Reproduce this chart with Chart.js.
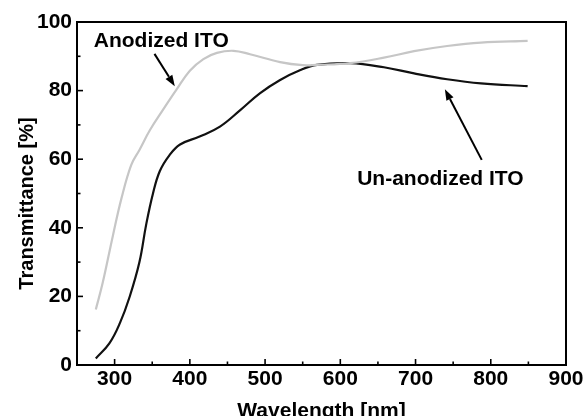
<!DOCTYPE html>
<html><head><meta charset="utf-8">
<script src="https://cdn.jsdelivr.net/npm/chart.js@4/dist/chart.umd.min.js"></script>
<style>html,body{margin:0;padding:0;background:#fff}</style>
</head><body>
<canvas id="c" width="587" height="416"></canvas>
<script>
// Wavelength (nm) and transmittance (%)
const waveUnanodized  = [275, 293, 307, 320, 333, 342, 351, 360, 373, 387, 413, 440, 467, 493, 520, 547, 569, 613, 658, 698, 742, 787, 849];
const transUnanodized = [1.9, 6.3, 12.2, 19.9, 30.0, 41.0, 50.0, 56.5, 61.2, 64.3, 66.6, 69.5, 74.3, 79.2, 83.1, 86.0, 87.5, 88.0, 86.8, 85.0, 83.3, 82.1, 81.3];
const waveAnodized    = [275, 284, 298, 309, 322, 333, 347, 364, 373, 382, 400, 418, 436, 458, 480, 520, 550, 569, 613, 658, 698, 742, 787, 849];
const transAnodized   = [16.2, 23.8, 38.0, 48.5, 58.3, 62.7, 68.5, 74.3, 77.3, 80.2, 85.8, 89.2, 91.0, 91.6, 90.6, 88.3, 87.4, 87.5, 88.0, 89.6, 91.5, 93.0, 94.0, 94.5];
const xTickValues = [300, 400, 500, 600, 700, 800, 900];
const yTickValues = [0, 20, 40, 60, 80, 100];
const seriesNames = ["Un-anodized ITO", "Anodized ITO"];
const axisTitles = {x: "Wavelength [nm]", y: "Transmittance [%]"};

const FONT = "'Liberation Sans', Arial, Helvetica, sans-serif";

const toPts = (xs, ys) => xs.map((x, i) => ({x, y: ys[i]}));

const framePlugin = {
  id: 'frame',
  afterDatasetsDraw(chart) {
    const {ctx, chartArea: a, scales: {x, y}} = chart;
    ctx.save();
    ctx.strokeStyle = '#000';
    ctx.lineWidth = 2;
    ctx.strokeRect(a.left, a.top, a.right - a.left, a.bottom - a.top);
    ctx.lineWidth = 1.6;
    for (let v = 300; v <= 850; v += 50) {
      const px = x.getPixelForValue(v);
      const len = (v % 100 === 0) ? 6 : 3.5;
      ctx.beginPath(); ctx.moveTo(px, a.bottom); ctx.lineTo(px, a.bottom - len); ctx.stroke();
    }
    for (let v = 10; v <= 90; v += 10) {
      const py = y.getPixelForValue(v);
      const len = (v % 20 === 0) ? 6 : 3.5;
      ctx.beginPath(); ctx.moveTo(a.left, py); ctx.lineTo(a.left + len, py); ctx.stroke();
    }
    // axis titles
    ctx.fillStyle = '#000';
    ctx.textAlign = 'center'; ctx.textBaseline = 'alphabetic';
    ctx.font = "bold 21px " + FONT;
    ctx.fillText(axisTitles.x, (a.left + a.right) / 2, a.bottom + 52);
    ctx.save();
    ctx.translate(33, (a.top + a.bottom) / 2 + 10);
    ctx.rotate(-Math.PI / 2);
    ctx.font = "bold 20px " + FONT;
    ctx.fillText(axisTitles.y, 0, 0);
    ctx.restore();
    ctx.restore();
  }
};

function arrow(ctx, x1, y1, x2, y2) {
  const ang = Math.atan2(y2 - y1, x2 - x1);
  const hl = 11, hw = 4;
  const bx = x2 - hl * Math.cos(ang), by = y2 - hl * Math.sin(ang);
  ctx.beginPath(); ctx.moveTo(x1, y1); ctx.lineTo(bx, by); ctx.stroke();
  ctx.beginPath();
  ctx.moveTo(x2, y2);
  ctx.lineTo(bx + hw * Math.sin(ang), by - hw * Math.cos(ang));
  ctx.lineTo(bx - hw * Math.sin(ang), by + hw * Math.cos(ang));
  ctx.closePath(); ctx.fill();
}

const annotPlugin = {
  id: 'annot',
  afterDatasetsDraw(chart) {
    const {ctx, scales: {x, y}} = chart;
    ctx.save();
    ctx.fillStyle = '#000'; ctx.strokeStyle = '#000'; ctx.lineWidth = 2;
    ctx.font = "bold 21px " + FONT;
    ctx.textAlign = 'center'; ctx.textBaseline = 'alphabetic';
    ctx.fillText(seriesNames[1], x.getPixelForValue(362), y.getPixelForValue(92.8));
    ctx.fillText(seriesNames[0], x.getPixelForValue(733), y.getPixelForValue(52.5));
    arrow(ctx, x.getPixelForValue(353), y.getPixelForValue(90.7), x.getPixelForValue(380), y.getPixelForValue(81.3));
    arrow(ctx, x.getPixelForValue(788), y.getPixelForValue(59.8), x.getPixelForValue(739), y.getPixelForValue(80.4));
    ctx.restore();
  }
};

new Chart(document.getElementById('c'), {
  type: 'line',
  data: {
    datasets: [
      {label: seriesNames[1], data: toPts(waveAnodized, transAnodized), borderColor: '#c6c6c6', borderWidth: 2.2, pointRadius: 0, tension: 0.4, fill: false},
      {label: seriesNames[0], data: toPts(waveUnanodized, transUnanodized), borderColor: '#111', borderWidth: 2.2, pointRadius: 0, tension: 0.4, fill: false}
    ]
  },
  options: {
    responsive: false, animation: false, devicePixelRatio: 1,
    layout: {padding: {top: 22, right: 21, left: 0, bottom: 0}},
    plugins: {legend: {display: false}, tooltip: {enabled: false}},
    scales: {
      x: {
        type: 'linear', min: 250, max: 900,
        afterBuildTicks: s => { s.ticks = xTickValues.map(v => ({value: v})); },
        afterFit: s => { s.height = 51; },
        grid: {display: false, drawTicks: false},
        border: {display: false},
        ticks: {color: '#000', padding: 2, font: {family: FONT, size: 21, weight: 'bold'}}
      },
      y: {
        type: 'linear', min: 0, max: 100,
        afterBuildTicks: s => { s.ticks = yTickValues.map(v => ({value: v})); },
        afterFit: s => { s.width = 77; },
        grid: {display: false, drawTicks: false},
        border: {display: false},
        ticks: {color: '#000', padding: 5, font: {family: FONT, size: 21, weight: 'bold'}}
      }
    }
  },
  plugins: [framePlugin, annotPlugin]
});
</script>
</body></html>
